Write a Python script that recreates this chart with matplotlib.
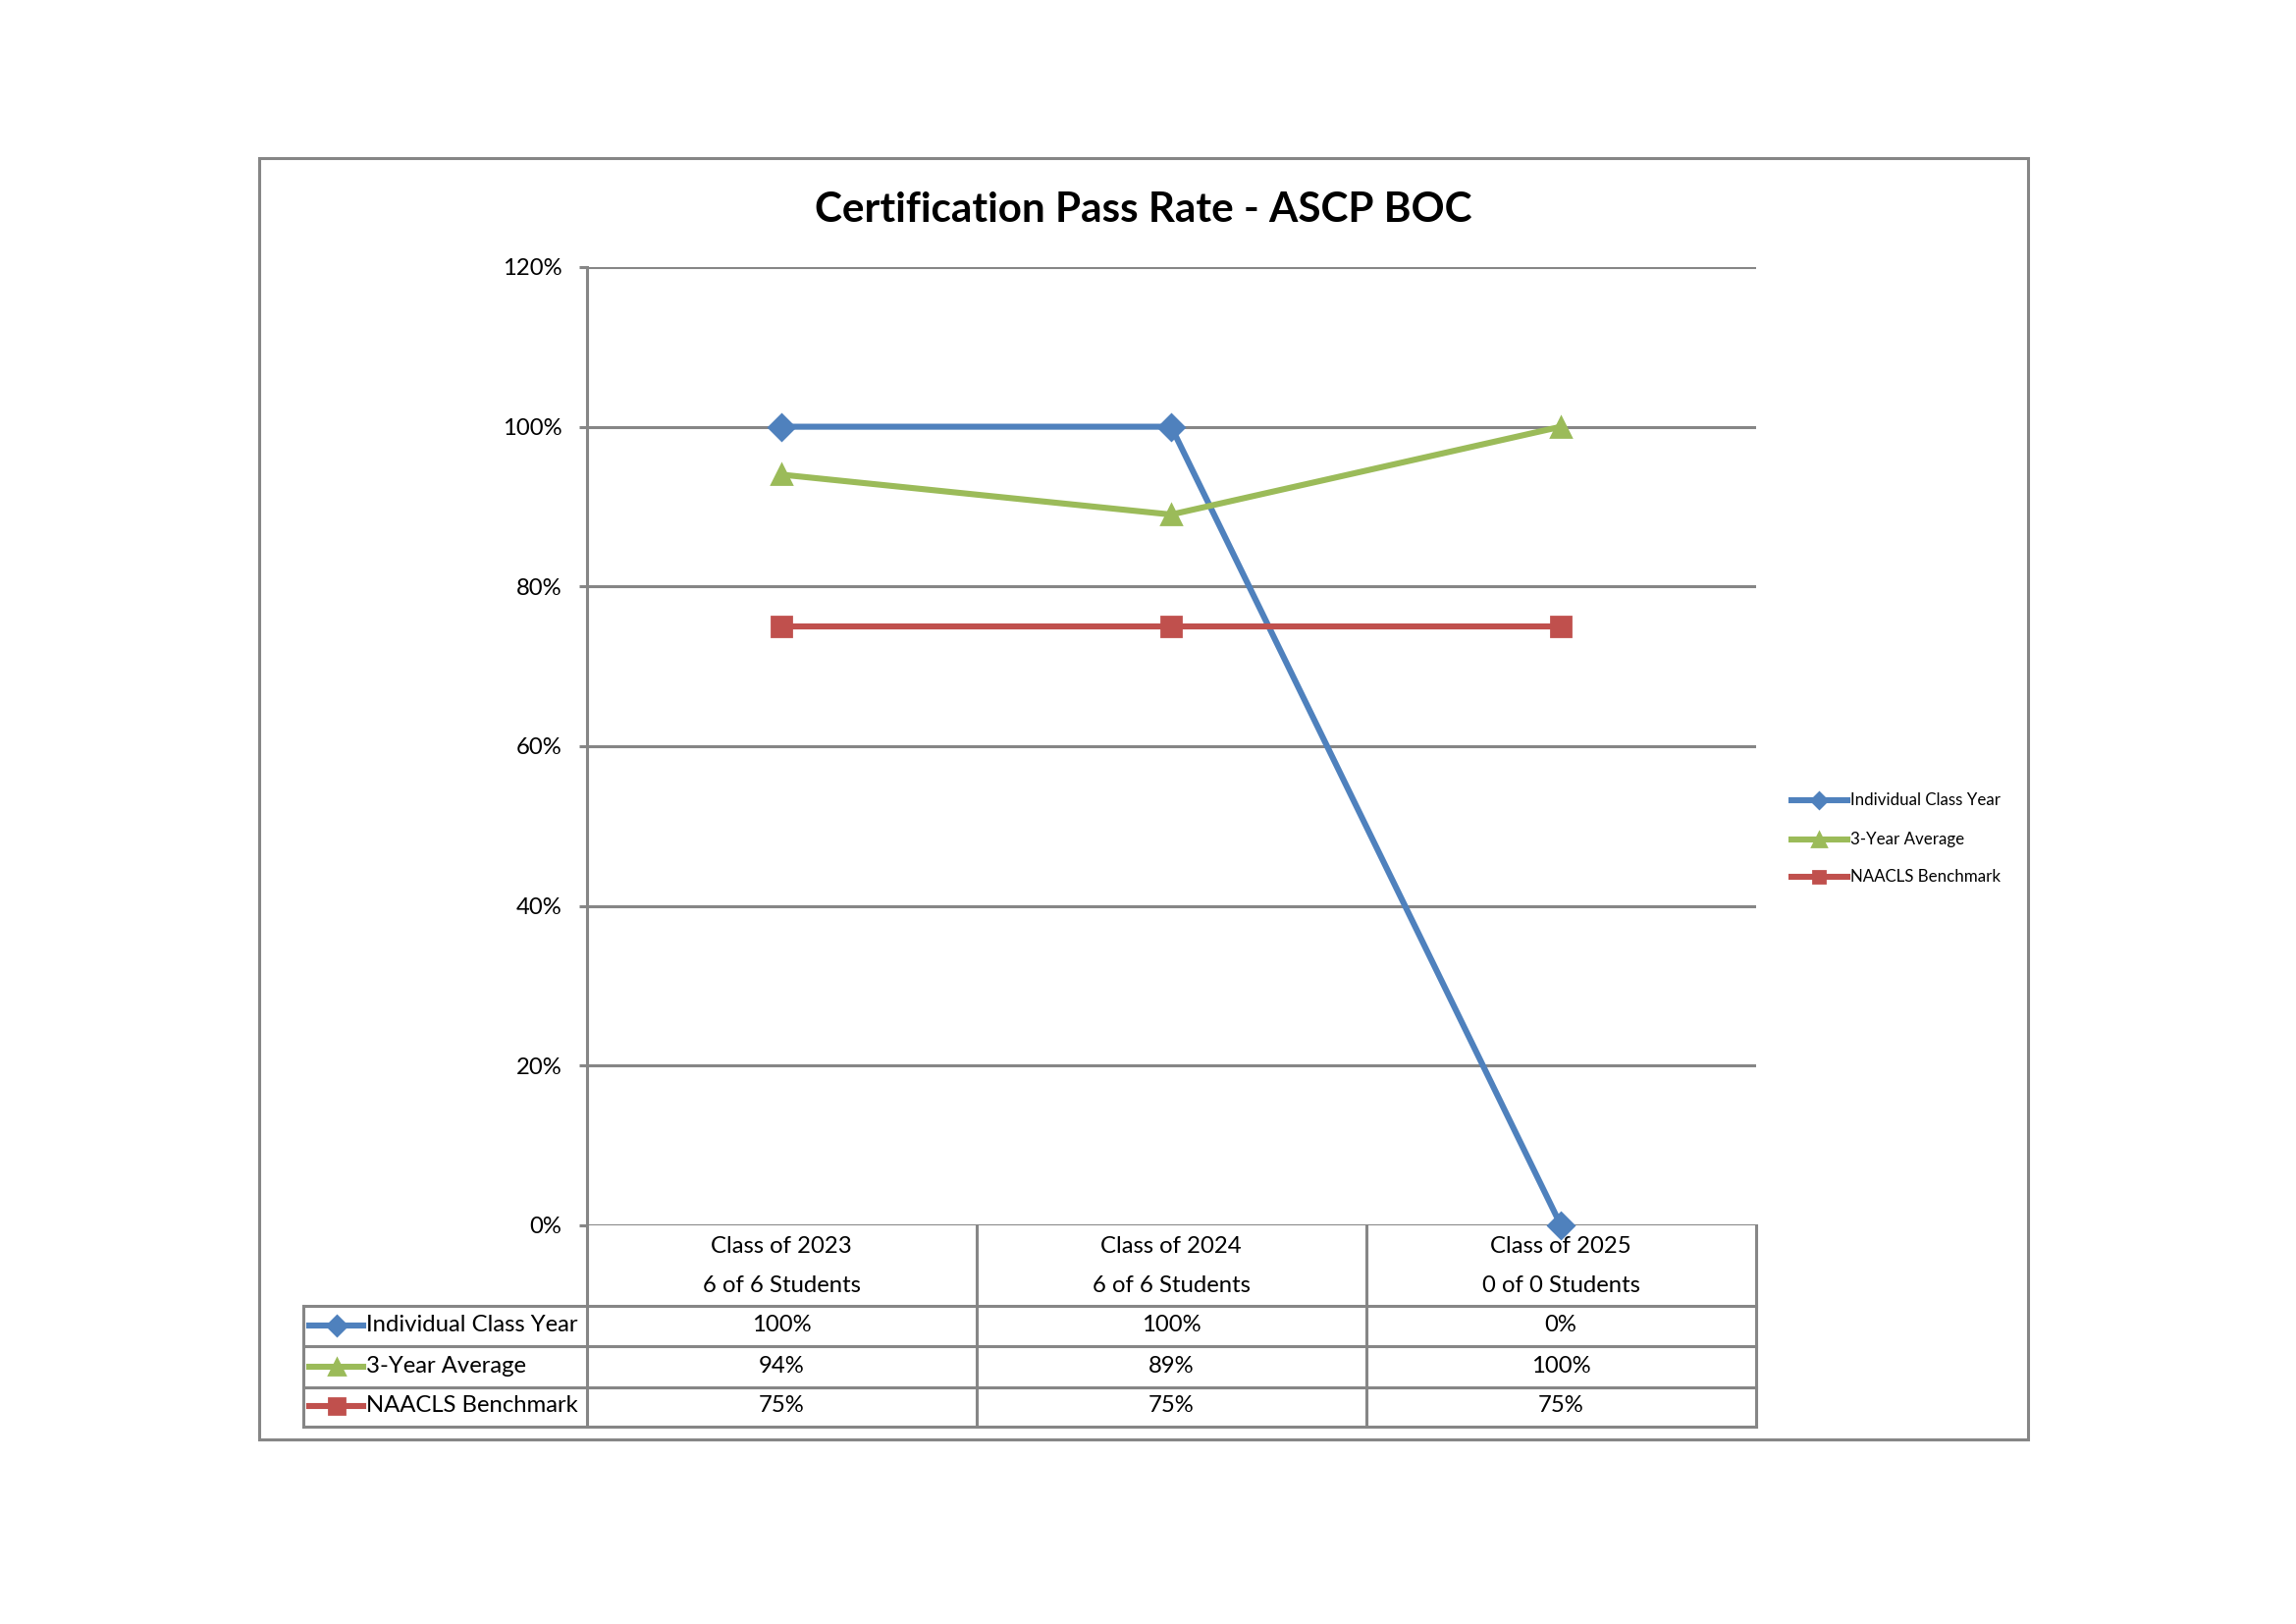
import matplotlib
matplotlib.use("Agg")
import matplotlib.pyplot as plt
from matplotlib.lines import Line2D
from matplotlib.patches import Rectangle

plt.rcParams["font.family"] = ["Lato", "DejaVu Sans"]

# data
class_years = ["Class of 2023", "Class of 2024", "Class of 2025"]
student_counts = ["6 of 6 Students", "6 of 6 Students", "0 of 0 Students"]
series_names = ["Individual Class Year", "3-Year Average", "NAACLS Benchmark"]
individual_year = [100, 100, 0]
three_year_avg = [94, 89, 100]
naacls_benchmark = [75, 75, 75]
y_ticks = [0, 20, 40, 60, 80, 100, 120]

colors = ["#4F81BD", "#9BBB59", "#C0504D"]
markers = ["D", "^", "s"]
msizes = [6.5, 7.5, 7.0]
grey = "#868686"
fs = 8.6

fig = plt.figure(figsize=(11.695, 8.27), dpi=200)

# chart area border
fig.patches.append(Rectangle((0.1129, 0.1137), 0.8833 - 0.1129, 0.9027 - 0.1137,
                             transform=fig.transFigure, fill=False,
                             edgecolor=grey, linewidth=1.1))

fig.text(0.498, 0.8705, "Certification Pass Rate - ASCP BOC", ha="center",
         va="center", fontsize=15.2, fontweight="bold")

ax = fig.add_axes([0.2555, 0.2455, 0.5092, 0.5901])
x = list(range(len(class_years)))
all_series = [individual_year, three_year_avg, naacls_benchmark]
for vals, c, m, ms, name in zip(all_series, colors, markers, msizes, series_names):
    ax.plot(x, vals, color=c, linewidth=2.2, marker=m, markersize=ms,
            label=name, clip_on=False, zorder=3)

ax.set_xlim(-0.5, len(class_years) - 0.5)
ax.set_ylim(0, 120)
ax.set_yticks(y_ticks)
ax.set_yticklabels([f"{v}%" for v in y_ticks], fontsize=fs)
ax.set_xticks([])
ax.yaxis.grid(True, color=grey, linewidth=1.1)
ax.set_axisbelow(True)
for side in ["top", "right", "bottom"]:
    ax.spines[side].set_visible(False)
ax.spines["left"].set_color(grey)
ax.spines["left"].set_linewidth(1.1)
ax.tick_params(axis="y", direction="out", length=3, width=1.1, color=grey, pad=6)

# data table under the axis
tr = ax.transAxes
row_lines = [-0.084, -0.126, -0.1691, -0.21]
leg_left = -0.2422
n = len(class_years)
for i in range(n + 1):
    ax.plot([i / n, i / n], [0, row_lines[-1]], color=grey, lw=1.1,
            transform=tr, clip_on=False)
ax.plot([leg_left, leg_left], [row_lines[0], row_lines[-1]], color=grey, lw=1.1,
        transform=tr, clip_on=False)
for yl in row_lines:
    ax.plot([leg_left, 1], [yl, yl], color=grey, lw=1.1, transform=tr, clip_on=False)

for i in range(n):
    cx = (i + 0.5) / n
    ax.text(cx, -0.0225, class_years[i], ha="center", va="center", fontsize=fs,
            transform=tr)
    ax.text(cx, -0.0635, student_counts[i], ha="center", va="center", fontsize=fs,
            transform=tr)

row_centers = [-0.1045, -0.1475, -0.1885]
for r, (vals, c, m, ms, name) in enumerate(zip(all_series, colors, markers, msizes,
                                               series_names)):
    yc = row_centers[r]
    ax.add_line(Line2D([-0.2372, -0.1910], [yc, yc], color=c, lw=2.2,
                       transform=tr, clip_on=False))
    ax.add_line(Line2D([-0.2141], [yc], color=c, marker=m, markersize=ms * 0.8,
                       linestyle="none", transform=tr, clip_on=False))
    ax.text(-0.1885, yc, name, ha="left", va="center", fontsize=fs, transform=tr)
    for i, v in enumerate(vals):
        ax.text((i + 0.5) / n, yc, f"{v}%", ha="center", va="center",
                fontsize=fs, transform=tr)

# legend on the right
leg_rows = [0.5073, 0.4831, 0.4601]
for yc, c, m, ms, name in zip(leg_rows, colors, markers, msizes, series_names):
    fig.add_artist(Line2D([0.7803, 0.8047], [yc, yc], color=c, lw=2.2,
                          transform=fig.transFigure))
    fig.add_artist(Line2D([0.7922], [yc], color=c, marker=m, markersize=ms * 0.65,
                          linestyle="none", transform=fig.transFigure))
    fig.text(0.8059, yc, name, ha="left", va="center", fontsize=6.1)

fig.savefig("out.png", dpi=200, facecolor="white")
